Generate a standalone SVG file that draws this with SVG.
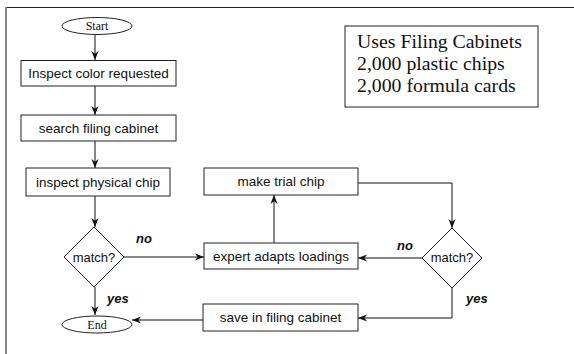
<svg xmlns="http://www.w3.org/2000/svg" width="574" height="354" viewBox="0 0 574 354">
<style>
.box{fill:#fff;stroke:#222;stroke-width:1}
.t{font-family:"Liberation Sans",Arial,sans-serif;font-size:13.5px;fill:#111;text-anchor:middle}
.m{font-family:"Liberation Sans",Arial,sans-serif;font-size:13px;fill:#111;text-anchor:middle}
.tt{font-family:"Liberation Serif","Times New Roman",serif;font-size:12px;fill:#111;text-anchor:middle}
.lab{font-family:"Liberation Sans",Arial,sans-serif;font-size:13px;font-weight:bold;font-style:italic;fill:#111}
.info{font-family:"Liberation Serif","Times New Roman",serif;font-size:19.8px;fill:#111}
.c{fill:none;stroke:#111;stroke-width:1}
</style>
<defs>
<marker id="ah" viewBox="0 0 10 10" refX="10" refY="5" markerWidth="9" markerHeight="9" markerUnits="userSpaceOnUse" orient="auto">
<path d="M0,1 L10,5 L0,9 L3,5 Z" fill="#111"/>
</marker>
</defs>
<rect width="574" height="354" fill="#fff"/>
<g id="frame">
<line x1="5" y1="7.5" x2="574" y2="7.5" stroke="#222" stroke-width="1"/>
<line x1="6" y1="7" x2="6" y2="354" stroke="#888" stroke-width="2"/>
</g>
<g id="connectors">
<line class="c" x1="95" y1="34" x2="95" y2="60" marker-end="url(#ah)"/>
<line class="c" x1="95" y1="86" x2="95" y2="115" marker-end="url(#ah)"/>
<line class="c" x1="95" y1="141" x2="95" y2="168" marker-end="url(#ah)"/>
<line class="c" x1="95" y1="196" x2="95" y2="227" marker-end="url(#ah)"/>
<line class="c" x1="95" y1="287" x2="95" y2="315" marker-end="url(#ah)"/>
<line class="c" x1="124" y1="257" x2="204" y2="257" marker-end="url(#ah)"/>
<line class="c" x1="274" y1="243" x2="274" y2="195" marker-end="url(#ah)"/>
<polyline class="c" points="358,183 452,183 452,228" marker-end="url(#ah)"/>
<line class="c" x1="422" y1="258" x2="358" y2="258" marker-end="url(#ah)"/>
<polyline class="c" points="452,288 452,318 358,318" marker-end="url(#ah)"/>
<line class="c" x1="203" y1="320" x2="132" y2="320" marker-end="url(#ah)"/>
<text class="lab" x="136" y="243">no</text>
<text class="lab" x="107" y="303">yes</text>
<text class="lab" x="397" y="250">no</text>
<text class="lab" x="466" y="303">yes</text>
</g>
<g id="start">
<ellipse class="box" cx="97" cy="26" rx="35" ry="8.5"/>
<text class="tt" x="97" y="30">Start</text>
</g>
<g id="inspect-color">
<rect class="box" x="21" y="60.5" width="155" height="25.5"/>
<text class="t" x="98.5" y="78">Inspect color requested</text>
</g>
<g id="search-cabinet">
<rect class="box" x="21" y="115" width="155" height="26"/>
<text class="t" x="98.5" y="132.5">search filing cabinet</text>
</g>
<g id="inspect-chip">
<rect class="box" x="26" y="168" width="144" height="28"/>
<text class="t" x="98" y="186.5">inspect physical chip</text>
</g>
<g id="match1">
<polygon class="box" points="94,227 124,257 94,287 64,257"/>
<text class="m" x="94" y="261.5">match?</text>
</g>
<g id="end">
<ellipse class="box" cx="97" cy="324.5" rx="35" ry="8.5"/>
<text class="tt" x="97" y="328.5">End</text>
</g>
<g id="make-trial">
<rect class="box" x="204" y="168" width="154" height="27"/>
<text class="t" x="281" y="186">make trial chip</text>
</g>
<g id="expert">
<rect class="box" x="204" y="243" width="154" height="26"/>
<text class="t" x="281" y="260.5">expert adapts loadings</text>
</g>
<g id="save">
<rect class="box" x="203" y="304" width="155" height="27"/>
<text class="t" x="280.5" y="322">save in filing cabinet</text>
</g>
<g id="match2">
<polygon class="box" points="452,228 482,258 452,288 422,258"/>
<text class="m" x="452" y="262">match?</text>
</g>
<g id="info">
<rect class="box" x="345" y="26" width="193" height="81"/>
<text class="info" x="357" y="48">Uses Filing Cabinets</text>
<text class="info" x="357" y="70">2,000 plastic chips</text>
<text class="info" x="357" y="92">2,000 formula cards</text>
</g>
</svg>
